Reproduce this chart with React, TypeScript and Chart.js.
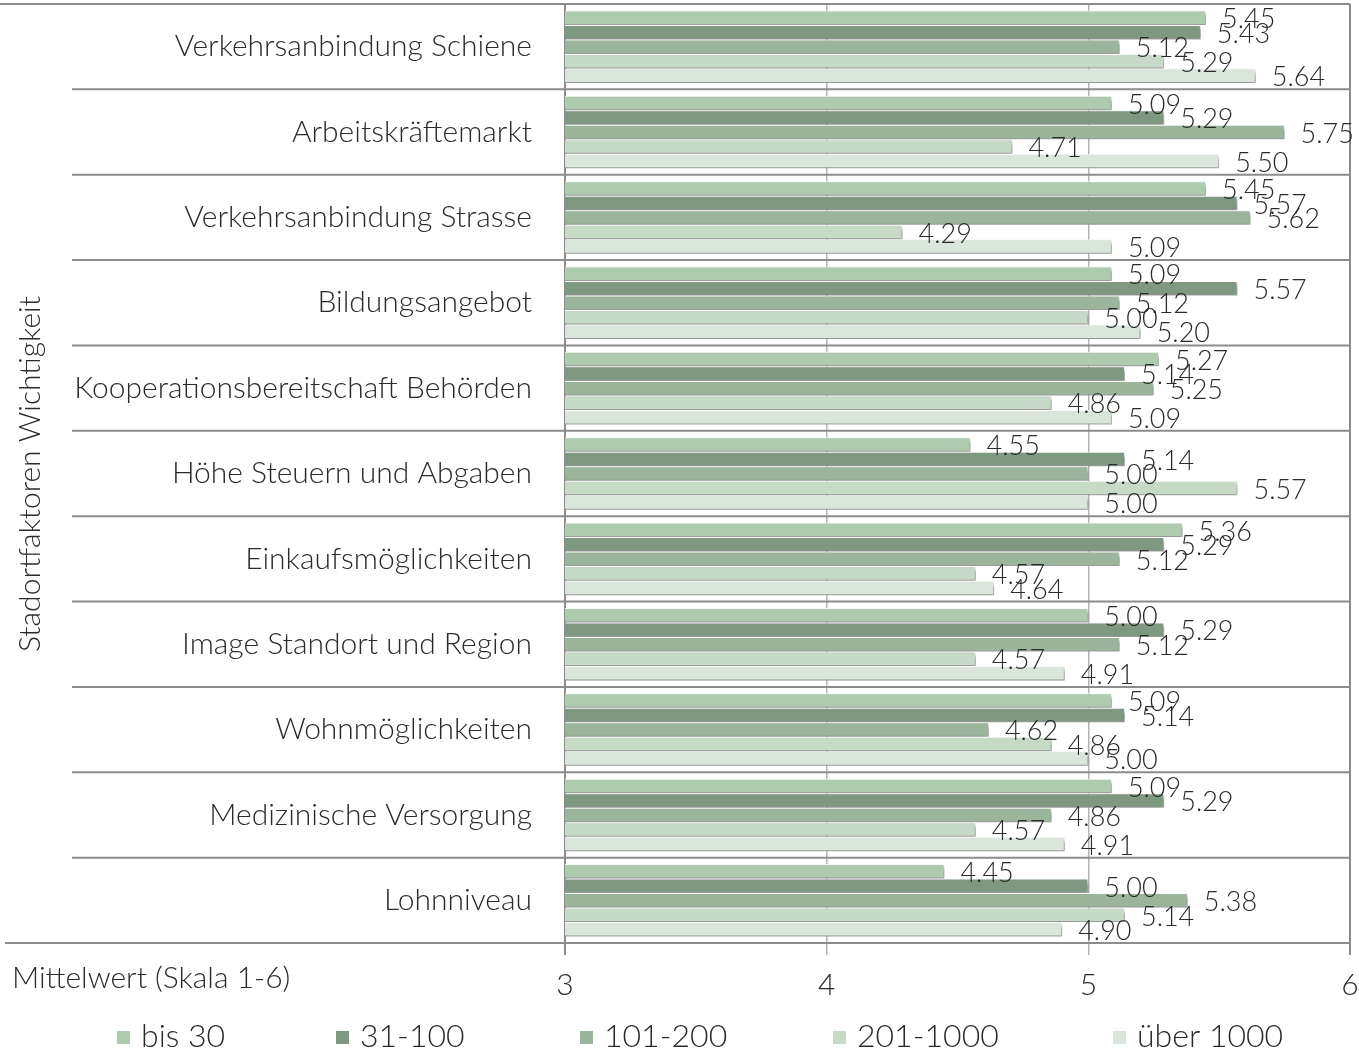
import React, { useEffect, useRef } from "react";
import { Chart, registerables } from "chart.js";

Chart.register(...registerables);

const categories = [
  "Verkehrsanbindung Schiene",
  "Arbeitskräftemarkt",
  "Verkehrsanbindung Strasse",
  "Bildungsangebot",
  "Kooperationsbereitschaft Behörden",
  "Höhe Steuern und Abgaben",
  "Einkaufsmöglichkeiten",
  "Image Standort und Region",
  "Wohnmöglichkeiten",
  "Medizinische Versorgung",
  "Lohnniveau",
];

const seriesNames = ["bis 30", "31-100", "101-200", "201-1000", "über 1000"];

const bis30 = [5.45, 5.09, 5.45, 5.09, 5.27, 4.55, 5.36, 5.0, 5.09, 5.09, 4.45];
const s31_100 = [5.43, 5.29, 5.57, 5.57, 5.14, 5.14, 5.29, 5.29, 5.14, 5.29, 5.0];
const s101_200 = [5.12, 5.75, 5.62, 5.12, 5.25, 5.0, 5.12, 5.12, 4.62, 4.86, 5.38];
const s201_1000 = [5.29, 4.71, 4.29, 5.0, 4.86, 5.57, 4.57, 4.57, 4.86, 4.57, 5.14];
const ueber1000 = [5.64, 5.5, 5.09, 5.2, 5.09, 5.0, 4.64, 4.91, 5.0, 4.91, 4.9];

const seriesValues = [bis30, s31_100, s101_200, s201_1000, ueber1000];
const seriesColors = ["#AECBB0", "#7F9882", "#9BB59C", "#C6DAC7", "#DAE5DB"];

const xTicks = [3, 4, 5, 6];
const xTitle = "Mittelwert (Skala 1-6)";
const yTitle = "Stadortfaktoren Wichtigkeit";

const FONT = "Lato, 'Open Sans', sans-serif";
const TEXT = "#2a2a2a";
const LINE = "#8c8c8c";

const decoPlugin = {
  id: "deco",
  beforeDatasetsDraw(chart: any) {
    const ctx = chart.ctx;
    const ca = chart.chartArea;
    const y = chart.scales.y;
    const n = categories.length;
    ctx.save();
    ctx.strokeStyle = LINE;
    ctx.lineWidth = 2;
    for (let i = 0; i <= n; i++) {
      const py = y.getPixelForValue(i - 0.5);
      const x0 = i === 0 ? 0 : i === n ? 5 : 72;
      ctx.beginPath();
      ctx.moveTo(x0, py);
      ctx.lineTo(ca.right, py);
      ctx.stroke();
    }
    ctx.restore();
    ctx.save();
    ctx.shadowColor = "rgba(0,0,0,0.45)";
    ctx.shadowBlur = 4;
    ctx.shadowOffsetX = 2;
    ctx.shadowOffsetY = 3;
  },
  afterDatasetsDraw(chart: any) {
    const ctx = chart.ctx;
    ctx.restore();
    ctx.save();
    ctx.font = `300 27px ${FONT}`;
    ctx.fillStyle = TEXT;
    ctx.textBaseline = "middle";
    ctx.textAlign = "left";
    chart.data.datasets.forEach((ds: any, di: number) => {
      const meta = chart.getDatasetMeta(di);
      meta.data.forEach((bar: any, i: number) => {
        const v = ds.data[i];
        ctx.fillText(v.toFixed(2), bar.x + 16, bar.y + 2);
      });
    });
    ctx.restore();
  },
  afterDraw(chart: any) {
    const ctx = chart.ctx;
    ctx.save();
    ctx.fillStyle = TEXT;
    ctx.font = `300 30px ${FONT}`;
    ctx.textAlign = "center";
    ctx.textBaseline = "middle";
    ctx.translate(30, 474);
    ctx.rotate(-Math.PI / 2);
    ctx.fillText(yTitle, 0, 0);
    ctx.restore();
    ctx.save();
    ctx.fillStyle = TEXT;
    ctx.font = `300 30px ${FONT}`;
    ctx.textAlign = "left";
    ctx.textBaseline = "middle";
    ctx.fillText(xTitle, 12, 978);
    ctx.font = `300 32px ${FONT}`;
    const xs = [117, 336, 580, 833, 1113];
    seriesNames.forEach((name, i) => {
      ctx.fillStyle = seriesColors[i];
      ctx.fillRect(xs[i], 1031, 13, 13);
      ctx.fillStyle = TEXT;
      ctx.fillText(name, xs[i] + 24, 1037);
    });
    ctx.restore();
  },
};

export default function App() {
  const ref = useRef<HTMLCanvasElement>(null);
  useEffect(() => {
    const chart = new Chart(ref.current!, {
      type: "bar",
      data: {
        labels: categories,
        datasets: seriesNames.map((name, i) => ({
          label: name,
          data: seriesValues[i],
          backgroundColor: seriesColors[i],
          borderColor: "#ffffff",
          borderWidth: 1,
          borderSkipped: false,
          categoryPercentage: 0.85,
          barPercentage: 1.0,
        })),
      },
      options: {
        indexAxis: "y",
        animation: false,
        responsive: false,
        maintainAspectRatio: false,
        layout: { padding: { top: 4, right: 9, bottom: 0, left: 0 } },
        plugins: {
          legend: { display: false },
          tooltip: { enabled: false },
        },
        scales: {
          x: {
            type: "linear",
            min: 3,
            max: 6,
            afterBuildTicks: (scale: any) => {
              scale.ticks = xTicks.map((v) => ({ value: v }));
            },
            afterFit: (scale: any) => {
              scale.height = 109;
              scale.paddingLeft = 0;
              scale.paddingRight = 0;
            },
            border: { display: false },
            grid: {
              color: (c: any) =>
                c.tick && (c.tick.value === 3 || c.tick.value === 6) ? LINE : "#b3b3b3",
              lineWidth: (c: any) =>
                c.tick && (c.tick.value === 3 || c.tick.value === 6) ? 2 : 1.5,
              tickLength: 12,
              drawTicks: true,
            },
            ticks: {
              color: TEXT,
              font: { family: FONT, size: 30, weight: "300" as any },
              padding: 12,
            },
          },
          y: {
            type: "category",
            afterFit: (scale: any) => {
              scale.width = 565;
              scale.paddingTop = 0;
              scale.paddingBottom = 0;
            },
            border: { display: false },
            grid: { display: false, drawTicks: false },
            ticks: {
              color: TEXT,
              font: { family: FONT, size: 30, weight: "300" as any },
              padding: 33,
              autoSkip: false,
            },
          },
        },
      },
      plugins: [decoPlugin],
    } as any);
    return () => chart.destroy();
  }, []);
  return (
    <div style={{ position: "fixed", left: 0, top: 0, width: 1359, height: 1052, background: "#fff" }}>
      <canvas ref={ref} width={1359} height={1052} style={{ display: "block", width: 1359, height: 1052 }} />
    </div>
  );
}
